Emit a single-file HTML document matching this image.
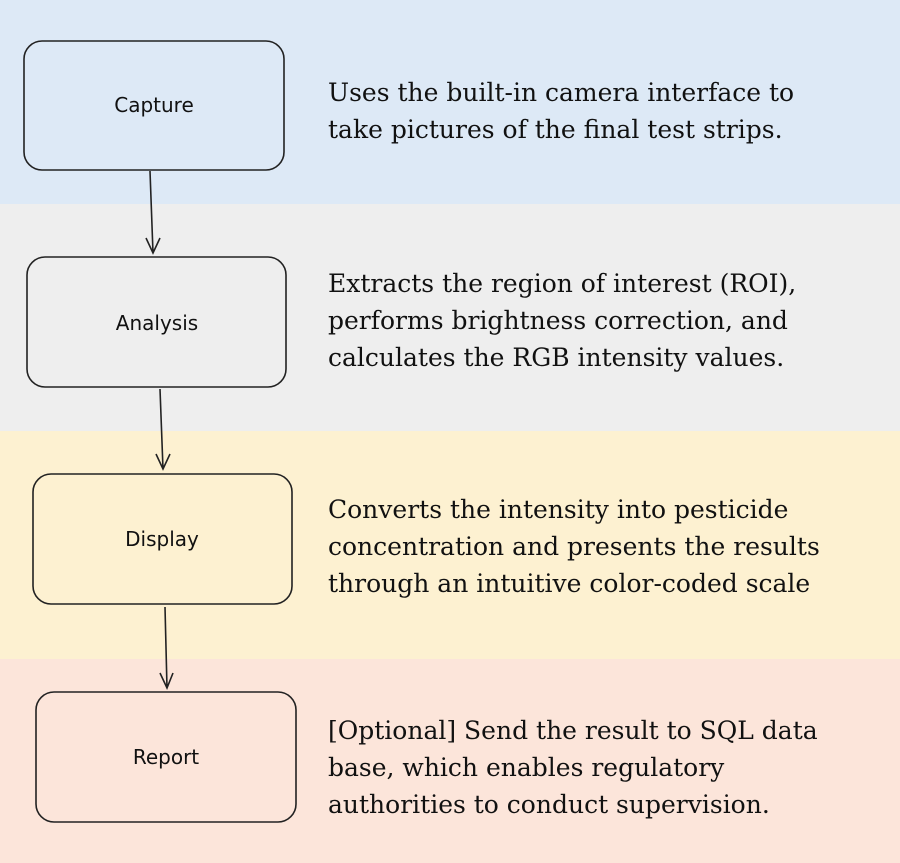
<!DOCTYPE html>
<html><head><meta charset="utf-8"><style>
body{margin:0;width:900px;height:863px;position:relative;overflow:hidden;font-family:"DejaVu Serif",serif}
.b{position:absolute;left:0;width:900px}
.t{position:absolute;left:328px;font-size:25px;line-height:37px;color:#111;white-space:nowrap}
svg{position:absolute;left:0;top:0}
</style></head><body>
<div class="b" style="top:0;height:204px;background:#dde9f6"></div>
<div class="b" style="top:204px;height:227px;background:#eeeeee"></div>
<div class="b" style="top:431px;height:228px;background:#fdf1d1"></div>
<div class="b" style="top:659px;height:204px;background:#fce5da"></div>
<svg width="900" height="863" font-family="'DejaVu Sans',sans-serif" font-size="20" text-anchor="middle" fill="none" stroke="#222" stroke-width="1.6">
<rect x="24" y="41" width="260" height="129" rx="18"/>
<rect x="27" y="257" width="259" height="130" rx="18"/>
<rect x="33" y="474" width="259" height="130" rx="18"/>
<rect x="36" y="692" width="260" height="130" rx="18"/>
<path d="M150 171 L153 253 M146 238 L153 253 L160 238"/>
<path d="M160 389 L163 469 M156 454 L163 469 L170 454"/>
<path d="M165 607 L167 688 M160 673 L167 688 L173 673"/>
<g fill="#111" stroke="none">
<text x="154" y="112">Capture</text>
<text x="157" y="330">Analysis</text>
<text x="162" y="546">Display</text>
<text x="166" y="764">Report</text>
</g></svg>
<div class="t" style="top:74px">Uses the built-in camera interface to<br>take pictures of the final test strips.</div>
<div class="t" style="top:265px">Extracts the region of interest (ROI),<br>performs brightness correction, and<br>calculates the RGB intensity values.</div>
<div class="t" style="top:491px">Converts the intensity into pesticide<br>concentration and presents the results<br>through an intuitive color-coded scale</div>
<div class="t" style="top:712px">[Optional] Send the result to SQL data<br>base, which enables regulatory<br>authorities to conduct supervision.</div>
</body></html>
